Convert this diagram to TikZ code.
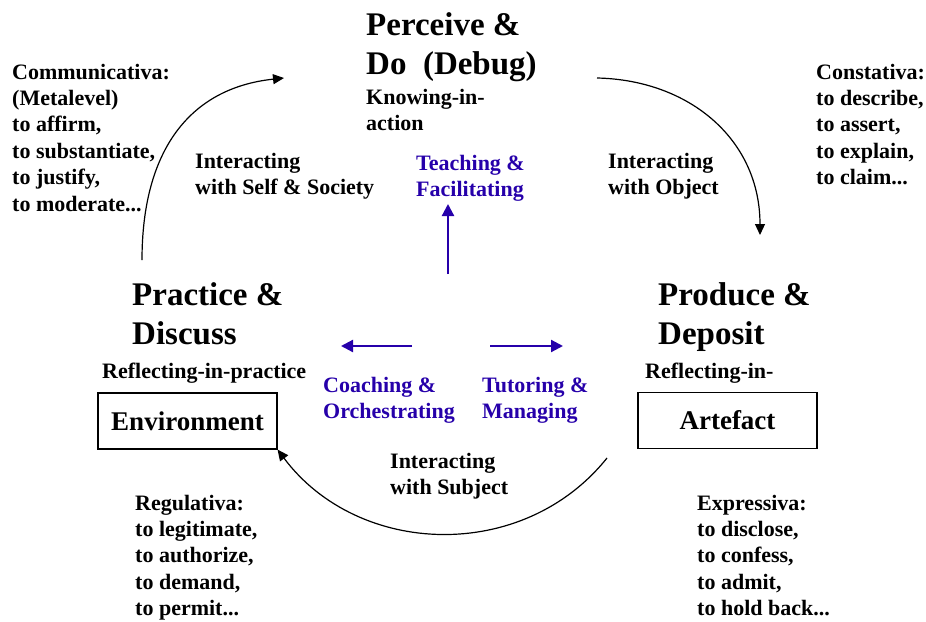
\documentclass[tikz,border=0pt]{standalone}
\usepackage{fontspec}
\setmainfont{Liberation Serif}
\usetikzlibrary{arrows.meta}
\definecolor{myblue}{RGB}{38,0,170}
\begin{document}
\begin{tikzpicture}[x=1pt,y=-1pt,
  lbl/.style={anchor=base west, inner sep=0pt, align=left, font=\fontsize{22}{26.4}\selectfont\bfseries},
  ttl/.style={anchor=base west, inner sep=0pt, align=left, font=\fontsize{33}{39.5}\selectfont\bfseries},
  blu/.style={lbl, text=myblue},
  boxn/.style={draw, line width=1.1pt, minimum width=179pt, minimum height=56pt, inner sep=0pt, font=\fontsize{27}{30}\selectfont\bfseries},
  arc/.style={line width=1.2pt, -{Triangle[length=11pt,width=10pt]}},
  barr/.style={myblue, line width=2.2pt, -{Triangle[length=12pt,width=12pt]}}]
\useasboundingbox (0,0) rectangle (926,621);
% titles (anchor = baseline of the last line)
\node[ttl] (perc) at (366,74.5) {Perceive \&\\Do\ \ (Debug)};
\node[lbl] (know) at (366,130.4) {Knowing-in-\\action};
\node[ttl] (prac) at (132,344.5) {Practice \&\\Discuss};
\node[lbl] (rprac) at (102,378) {Reflecting-in-practice};
\node[ttl] (prod) at (658,344.5) {Produce \&\\Deposit};
\node[lbl] (rart) at (645,378) {Reflecting-in-};
% boxes
\node[boxn] (env) at (187.5,421) {Environment};
\node[boxn] (art) at (727.5,420.5) {Artefact};
% side texts
\node[lbl] (comm) at (12,211) {Communicativa:\\(Metalevel)\\to affirm,\\to substantiate,\\to justify,\\to moderate...};
\node[lbl] (const) at (816,184.6) {Constativa:\\to describe,\\to assert,\\to explain,\\to claim...};
\node[lbl] (reg) at (135,615.6) {Regulativa:\\to legitimate,\\to authorize,\\to demand,\\to permit...};
\node[lbl] (expr) at (697,615.6) {Expressiva:\\to disclose,\\to confess,\\to admit,\\to hold back...};
% interacting labels
\node[lbl] (iself) at (195,194.4) {Interacting\\with Self \& Society};
\node[lbl] (iobj) at (608,194.4) {Interacting\\with Object};
\node[lbl] (isub) at (390,494.4) {Interacting\\with Subject};
% blue labels
\node[blu] (teach) at (416,196.4) {Teaching \&\\Facilitating};
\node[blu] (coach) at (323,418.4) {Coaching \&\\Orchestrating};
\node[blu] (tutor) at (482,418.4) {Tutoring \&\\Managing};
% arc endpoints
\coordinate (a1s) at (142,260);
\coordinate (a1e) at (284,78);
\coordinate (a2s) at (597,78);
\coordinate (a2e) at (760,235);
\coordinate (a3s) at (607,458);
% arcs
\draw[arc] (a1s) .. controls (142,150) and (190,88) .. (a1e);
\draw[arc] (a2s) .. controls (690,80) and (760,140) .. (a2e);
\draw[arc] (a3s) .. controls (523,563) and (358,557) .. (env.south east);
% blue arrows
\coordinate (bu0) at (448,274);
\coordinate (bu1) at (448,204);
\coordinate (bl0) at (412,346);
\coordinate (bl1) at (341,346);
\coordinate (br0) at (490,346);
\coordinate (br1) at (563,346);
\draw[barr] (bu0) -- (bu1);
\draw[barr] (bl0) -- (bl1);
\draw[barr] (br0) -- (br1);
\end{tikzpicture}
\end{document}
